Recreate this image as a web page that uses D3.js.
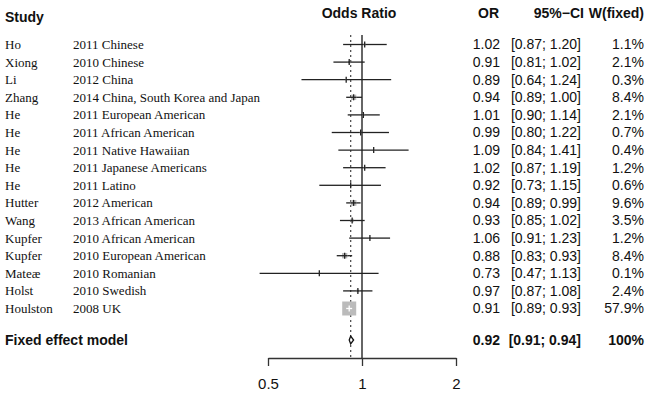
<!DOCTYPE html>
<html>
<head>
<meta charset="utf-8">
<script src="https://cdn.jsdelivr.net/npm/d3@7"></script>
<style>
  body { margin: 0; background: #fff; }
  svg { display: block; }
</style>
</head>
<body>
<div id="wrapper"></div>
<script>
const authors = ["Ho", "Xiong", "Li", "Zhang", "He", "He", "He", "He", "He",
  "Hutter", "Wang", "Kupfer", "Kupfer", "Mate\u00e6", "Holst", "Houlston"]
const studies = ["2011 Chinese", "2010 Chinese", "2012 China",
  "2014 China, South Korea and Japan", "2011 European American",
  "2011 African American", "2011 Native Hawaiian", "2011 Japanese Americans",
  "2011 Latino", "2012 American", "2013 African American",
  "2010 African American", "2010 European American", "2010 Romanian",
  "2010 Swedish", "2008 UK"]
const or = [1.02, 0.91, 0.89, 0.94, 1.01, 0.99, 1.09, 1.02, 0.92, 0.94, 0.93, 1.06, 0.88, 0.73, 0.97, 0.91]
const lower = [0.87, 0.81, 0.64, 0.89, 0.90, 0.80, 0.84, 0.87, 0.73, 0.89, 0.85, 0.91, 0.83, 0.47, 0.87, 0.89]
const upper = [1.20, 1.02, 1.24, 1.00, 1.14, 1.22, 1.41, 1.19, 1.15, 0.99, 1.02, 1.23, 0.93, 1.13, 1.08, 0.93]
const weights = [1.1, 2.1, 0.3, 8.4, 2.1, 0.7, 0.4, 1.2, 0.6, 9.6, 3.5, 1.2, 8.4, 0.1, 2.4, 57.9]

const pooled = { or: 0.92, lower: 0.91, upper: 0.94, weight: "100%" }
const xTicks = [0.5, 1, 2]

const width = 650
const height = 394

const svg = d3.select("#wrapper")
  .append("svg")
    .attr("width", width)
    .attr("height", height)

const xScale = d3.scaleLog()
  .domain([0.5, 2])
  .range([268, 456])

const yScale = d3.scalePoint()
  .domain(d3.range(authors.length))
  .range([44.5, 308.5])

const pooledY = 340
const axisY = 358
const plotTop = 35

const sizeScale = d3.scaleSqrt()
  .domain([0, d3.max(weights)])
  .range([0, 14])

const fmt = d3.format(".2f")

// headers
const header = svg.append("g")
  .style("font-family", "Arial, 'Liberation Sans', sans-serif")
  .style("font-weight", "bold")
  .style("font-size", "14px")
  .attr("fill", "#111")

header.append("text").attr("x", 5).attr("y", 22).text("Study")
header.append("text").attr("x", xScale(1) - 3).attr("y", 18).attr("text-anchor", "middle").text("Odds Ratio")
header.append("text").attr("x", 499).attr("y", 18).attr("text-anchor", "end").text("OR")
header.append("text").attr("x", 584).attr("y", 18).attr("text-anchor", "end").text("95%\u2212CI")
header.append("text").attr("x", 644).attr("y", 18).attr("text-anchor", "end").text("W(fixed)")

// study labels
const labels = svg.append("g")
  .style("font-family", "'Liberation Serif', 'Times New Roman', serif")
  .style("font-size", "13px")
  .attr("fill", "#111")

labels.selectAll(".author")
  .data(authors)
  .enter().append("text")
    .attr("class", "author")
    .attr("x", 5)
    .attr("y", (d, i) => yScale(i))
    .attr("dy", "0.35em")
    .text(d => d)

labels.selectAll(".study")
  .data(studies)
  .enter().append("text")
    .attr("class", "study")
    .attr("x", 73)
    .attr("y", (d, i) => yScale(i))
    .attr("dy", "0.35em")
    .text(d => d)

// number columns
const nums = svg.append("g")
  .style("font-family", "Arial, 'Liberation Sans', sans-serif")
  .style("font-size", "14px")
  .attr("fill", "#111")

const rows = nums.selectAll(".row")
  .data(or)
  .enter().append("g")
    .attr("class", "row")
    .attr("transform", (d, i) => `translate(0, ${yScale(i)})`)

rows.append("text").attr("x", 500).attr("dy", "0.35em").attr("text-anchor", "end")
  .text(d => fmt(d))
rows.append("text").attr("x", 581).attr("dy", "0.35em").attr("text-anchor", "end")
  .text((d, i) => `[${fmt(lower[i])}; ${fmt(upper[i])}]`)
rows.append("text").attr("x", 644).attr("dy", "0.35em").attr("text-anchor", "end")
  .text((d, i) => `${weights[i].toFixed(1)}%`)

// pooled row
const pooledRow = svg.append("g")
  .style("font-family", "Arial, 'Liberation Sans', sans-serif")
  .style("font-size", "14px")
  .style("font-weight", "bold")
  .attr("fill", "#111")
  .attr("transform", `translate(0, ${pooledY})`)

pooledRow.append("text").attr("x", 5).attr("dy", "0.35em").text("Fixed effect model")
pooledRow.append("text").attr("x", 500).attr("dy", "0.35em").attr("text-anchor", "end").text(fmt(pooled.or))
pooledRow.append("text").attr("x", 581).attr("dy", "0.35em").attr("text-anchor", "end")
  .text(`[${fmt(pooled.lower)}; ${fmt(pooled.upper)}]`)
pooledRow.append("text").attr("x", 644).attr("dy", "0.35em").attr("text-anchor", "end").text(pooled.weight)

// reference lines
const plot = svg.append("g")

plot.append("line")
  .attr("x1", xScale(pooled.or)).attr("x2", xScale(pooled.or))
  .attr("y1", plotTop).attr("y2", axisY)
  .attr("stroke", "#444")
  .attr("stroke-width", 1.2)
  .attr("stroke-dasharray", "2,3")

plot.append("line")
  .attr("x1", xScale(1)).attr("x2", xScale(1))
  .attr("y1", plotTop).attr("y2", axisY)
  .attr("stroke", "#333")
  .attr("stroke-width", 1.5)

// study markers
const half = i => sizeScale(weights[i]) / 2
const inside = i => sizeScale(weights[i]) > 6

const marks = plot.selectAll(".study-mark")
  .data(or)
  .enter().append("g")
    .attr("class", "study-mark")
    .attr("transform", (d, i) => `translate(0, ${yScale(i)})`)

marks.append("rect")
  .attr("x", (d, i) => xScale(d) - half(i))
  .attr("y", (d, i) => -half(i))
  .attr("width", (d, i) => 2 * half(i))
  .attr("height", (d, i) => 2 * half(i))
  .attr("fill", "#bbb")

// CI outside the square
marks.append("line")
  .attr("x1", (d, i) => xScale(lower[i]))
  .attr("x2", (d, i) => Math.max(xScale(lower[i]), xScale(d) - half(i)))
  .attr("stroke", "#222")
  .attr("stroke-width", 1.3)

marks.append("line")
  .attr("x1", (d, i) => Math.min(xScale(upper[i]), xScale(d) + half(i)))
  .attr("x2", (d, i) => xScale(upper[i]))
  .attr("stroke", "#222")
  .attr("stroke-width", 1.3)

// CI inside the square, white on big squares
marks.append("line")
  .attr("x1", (d, i) => Math.max(xScale(lower[i]), xScale(d) - half(i)))
  .attr("x2", (d, i) => Math.min(xScale(upper[i]), xScale(d) + half(i)))
  .attr("stroke", (d, i) => inside(i) ? "#fff" : "#222")
  .attr("stroke-width", 1.3)

marks.append("line")
  .attr("x1", d => xScale(d)).attr("x2", d => xScale(d))
  .attr("y1", -3).attr("y2", 3)
  .attr("stroke", (d, i) => inside(i) ? "#fff" : "#222")
  .attr("stroke-width", 1.3)

// pooled diamond
const dh = 4
plot.append("path")
  .attr("d", `M${xScale(pooled.lower)},${pooledY} L${xScale(pooled.or)},${pooledY - dh} L${xScale(pooled.upper)},${pooledY} L${xScale(pooled.or)},${pooledY + dh} Z`)
  .attr("fill", "#fff")
  .attr("stroke", "#111")
  .attr("stroke-width", 1.3)

// x axis
const xAxisGenerator = d3.axisBottom(xScale)
  .tickValues(xTicks)
  .tickFormat(d3.format("~g"))
  .tickSize(8)
  .tickSizeOuter(0)

const xAxis = plot.append("g")
  .attr("transform", `translate(0, ${axisY})`)
  .call(xAxisGenerator)

xAxis.select(".domain").attr("stroke", "#333").attr("stroke-width", 1.3)
xAxis.selectAll(".tick line").attr("stroke", "#333").attr("stroke-width", 1.3)
xAxis.selectAll(".tick text")
  .attr("y", 20)
  .attr("fill", "#111")
  .style("font-family", "Arial, 'Liberation Sans', sans-serif")
  .style("font-size", "15px")
</script>
</body>
</html>
